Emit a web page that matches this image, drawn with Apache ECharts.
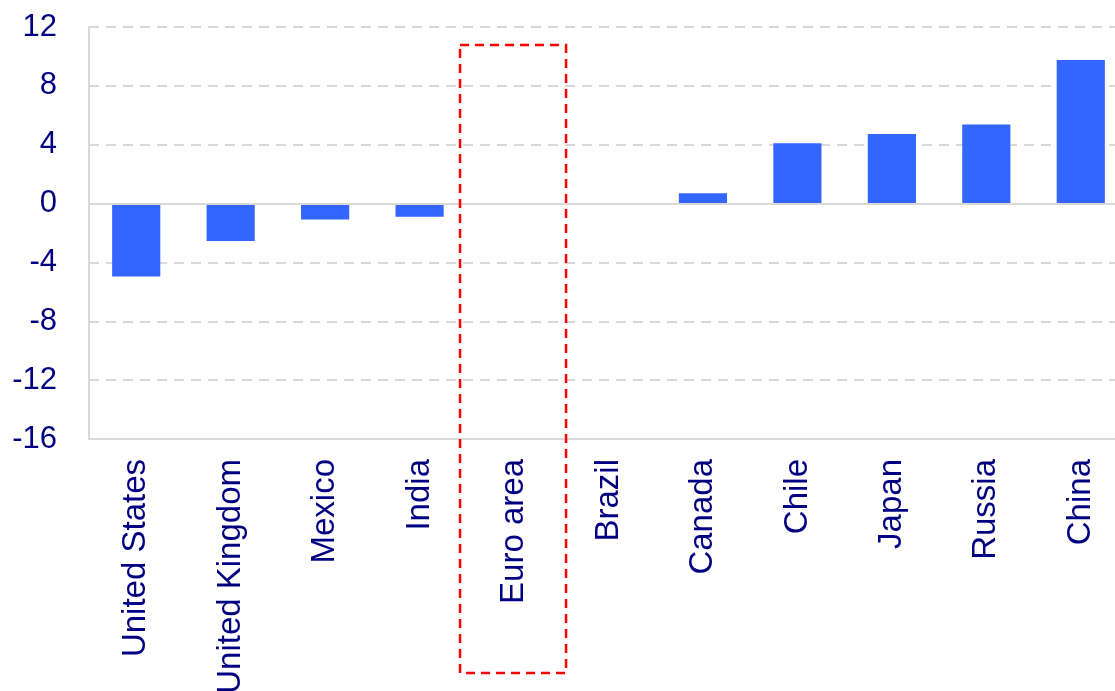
<!DOCTYPE html>
<html>
<head>
<meta charset="utf-8">
<script src="https://cdn.jsdelivr.net/npm/echarts@6/dist/echarts.min.js"></script>
<style>
html,body{margin:0;padding:0;background:#fff;}
#c{width:1115px;height:691px;}
</style>
</head>
<body>
<div id="c"></div>
<script>
const categories = ["United States","United Kingdom","Mexico","India","Euro area","Brazil","Canada","Chile","Japan","Russia","China"];
const values = [-4.95,-2.55,-1.08,-0.9,0.04,0.04,0.7,4.1,4.72,5.38,9.75];
const yTicks = {min:-16,max:12,interval:4};
const highlighted = "Euro area";

const FONT = "'Liberation Sans', Arial, sans-serif";
const TXT = "#000080";
const GRIDC = "#d9d9d9";

const chart = echarts.init(document.getElementById('c'), null, {renderer:'canvas'});
const option = {
  animation:false,
  grid:{left:89,right:-13,top:27,bottom:252,containLabel:false,outerBoundsMode:'none'},
  xAxis:[{
    type:'category',
    data:categories,
    position:'bottom',
    axisLine:{onZero:false,lineStyle:{color:GRIDC,width:2}},
    axisTick:{show:false},
    axisLabel:{rotate:90,color:TXT,fontSize:33,fontFamily:FONT,margin:20,interval:0}
  },{
    type:'category',
    data:categories,
    position:'top',
    axisLine:{show:true,lineStyle:{color:GRIDC,width:2}},
    axisTick:{show:false},
    axisLabel:{show:false}
  }],
  yAxis:{
    type:'value',
    min:yTicks.min,max:yTicks.max,interval:yTicks.interval,
    axisLine:{show:true,lineStyle:{color:GRIDC,width:2}},
    axisTick:{show:false},
    axisLabel:{color:TXT,fontSize:31,fontFamily:FONT,margin:32},
    splitLine:{show:true,lineStyle:{color:GRIDC,width:2,type:[10,7]}}
  },
  series:[{
    type:'bar',
    data:values,
    barWidth:'51%',
    itemStyle:{color:'#3366FF'},
    markLine:{
      silent:true,symbol:'none',label:{show:false},
      lineStyle:{color:GRIDC,width:2,type:'solid'},
      data:[{yAxis:0}]
    },
    z:3
  }]
};
chart.setOption(option);

const cx = chart.convertToPixel({xAxisIndex:0}, highlighted);
chart.setOption({
  graphic:[{
    type:'rect',
    shape:{x:cx-54,y:45,width:106,height:628},
    style:{fill:'none',stroke:'#FF0000',lineWidth:2.5,lineDash:[9,6]},
    z:100
  }]
});
</script>
</body>
</html>
